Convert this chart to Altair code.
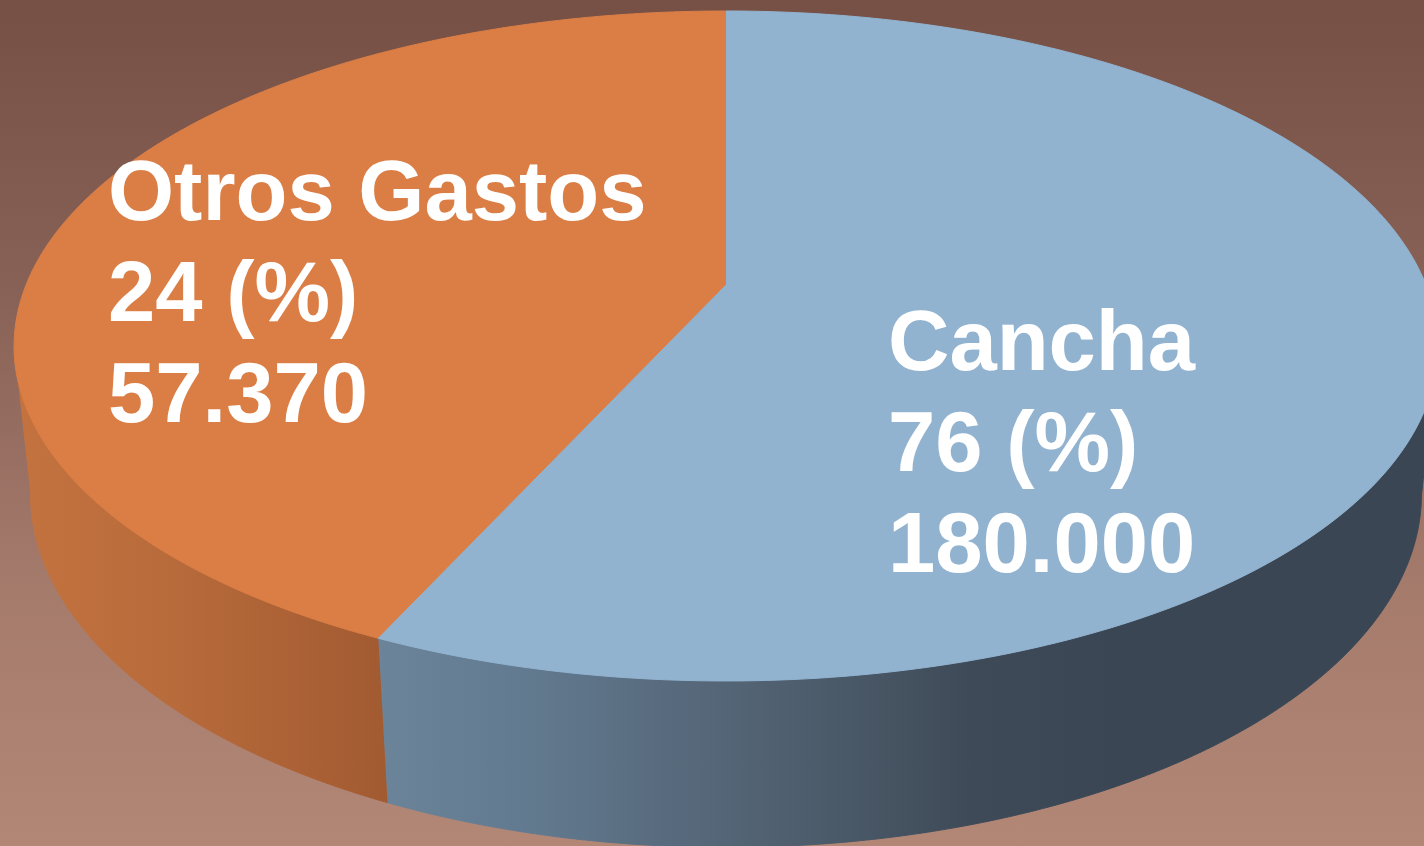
import math
import altair as alt
import pandas as pd

# ---- data ----
slices = ["Otros Gastos", "Cancha"]
shares = [43.2, 56.8]              # slice sizes as drawn in the pie
pct_text = ["24 (%)", "76 (%)"]
amount_text = ["57.370", "180.000"]
top_colors = ["#DB7E45", "#92B3D0"]

W, H = 1424, 846

# ---- 3D view parameters (perspective pie) ----
CX, CY = 726.0, 285.0
F, D = 3409.0, 4.87
SIN_A, COS_A = 0.4627, 0.8865
THICK = 0.24
N = 240
T_MIN = math.acos(-COS_A / D) / (2 * math.pi)

df = pd.DataFrame({
    "slice": slices,
    "share": shares,
    "pct": pct_text,
    "amount": amount_text,
    "order": list(range(len(slices))),
})


def proj(xe, ye, ze):
    depth = f"({D} + ({ze})*{COS_A} - ({ye})*{SIN_A})"
    px = f"{CX} + {F}*({xe})/{depth}"
    py = f"{CY} - {F}*(({ye})*{COS_A} + ({ze})*{SIN_A})/{depth}"
    return px, py


xs = alt.Scale(domain=[0, W], nice=False, zero=False)
ys = alt.Scale(domain=[0, H], nice=False, zero=False, reverse=True)
color_scale = alt.Scale(domain=slices, range=top_colors)

base = (
    alt.Chart(df)
    .transform_joinaggregate(total="sum(share)")
    .transform_window(cum="sum(share)", sort=[alt.SortField("order")])
    .transform_calculate(
        t0="(datum.cum - datum.share) / datum.total",
        t1="datum.cum / datum.total",
    )
)

# background
bg = alt.Chart(alt.Data(values=[{"a": 1}])).mark_rect(
    fill=alt.LinearGradient(
        gradient="linear",
        x1=0, x2=0, y1=0, y2=1,
        stops=[
            alt.GradientStop(offset=0, color="#765045"),
            alt.GradientStop(offset=0.35, color="#896257"),
            alt.GradientStop(offset=0.7, color="#a57b6c"),
            alt.GradientStop(offset=1, color="#b28776"),
        ],
    )
).encode(x=alt.value(0), x2=alt.value(W), y=alt.value(0), y2=alt.value(H))

# side walls
wall_grads = {
    "Otros Gastos": [("#c4733f", 0), ("#b5693a", 0.5), ("#a25a31", 1)],
    "Cancha": [("#6b8499", 0), ("#627a8f", 0.14), ("#56687a", 0.3),
               ("#4b5a69", 0.43), ("#3e4a58", 0.56), ("#3a4653", 0.7),
               ("#3a4653", 1)],
}

wpx, wpy = proj("datum.X", "datum.Y", "datum.Z")
wall_base = (
    base.transform_calculate(
        ta=f"max(datum.t0, {T_MIN})",
        tb=f"min(datum.t1, {1 - T_MIN})",
    )
    .transform_filter("datum.ta < datum.tb")
    .transform_calculate(idx=f"sequence(0, {2 * (N + 1)})")
    .transform_flatten(["idx"])
    .transform_calculate(
        tt=f"datum.idx <= {N} ? datum.ta + (datum.tb - datum.ta) * datum.idx / {N} "
           f": datum.tb - (datum.tb - datum.ta) * (datum.idx - {N + 1}) / {N}",
        Y=f"datum.idx <= {N} ? 0 : {-THICK}",
    )
    .transform_calculate(th="-2 * PI * datum.tt")
    .transform_calculate(X="sin(datum.th)", Z="cos(datum.th)")
    .transform_calculate(px=wpx, py=wpy)
)

wall_layers = []
for name in slices:
    grad = alt.LinearGradient(
        gradient="linear", x1=0, x2=1, y1=0, y2=0,
        stops=[alt.GradientStop(offset=o, color=c) for c, o in wall_grads[name]],
    )
    wall_layers.append(
        wall_base.transform_filter(alt.datum.slice == name)
        .mark_line(fill=grad, stroke=grad, strokeWidth=1, clip=True)
        .encode(
            x=alt.X("px:Q", scale=xs, axis=None),
            y=alt.Y("py:Q", scale=ys, axis=None),
            order=alt.Order("idx:Q"),
        )
    )

# top face
tpx, tpy = proj("datum.X", "0", "datum.Z")
top = (
    base.transform_calculate(idx=f"sequence(-1, {N + 1})")
    .transform_flatten(["idx"])
    .transform_calculate(tt=f"datum.t0 + (datum.t1 - datum.t0) * max(datum.idx, 0) / {N}")
    .transform_calculate(th="-2 * PI * datum.tt")
    .transform_calculate(
        X="datum.idx < 0 ? 0 : sin(datum.th)",
        Z="datum.idx < 0 ? 0 : cos(datum.th)",
    )
    .transform_calculate(px=tpx, py=tpy)
    .mark_line(strokeWidth=1, clip=True)
    .encode(
        x=alt.X("px:Q", scale=xs, axis=None),
        y=alt.Y("py:Q", scale=ys, axis=None),
        fill=alt.Fill("slice:N", scale=color_scale, legend=None),
        stroke=alt.Stroke("slice:N", scale=color_scale, legend=None),
        detail="slice:N",
        order=alt.Order("idx:Q"),
    )
)

# labels
label_pos = {"Otros Gastos": (108, 220), "Cancha": (888, 370)}
text_layers = []
for name in slices:
    lx, ly = label_pos[name]
    text_layers.append(
        alt.Chart(df)
        .transform_filter(alt.datum.slice == name)
        .transform_calculate(label="datum.slice + '\\n' + datum.pct + '\\n' + datum.amount")
        .mark_text(
            align="left", baseline="alphabetic", font="Liberation Sans",
            fontWeight="bold", fontSize=85, color="white",
            lineBreak="\n", lineHeight=101,
        )
        .encode(x=alt.value(lx), y=alt.value(ly), text="label:N")
    )

chart = (
    alt.layer(bg, *wall_layers, top, *text_layers)
    .properties(width=W, height=H, padding=0, autosize="none")
    .configure_view(stroke=None)
)

chart.save("out.html", embed_options={"renderer": "svg", "actions": False})
